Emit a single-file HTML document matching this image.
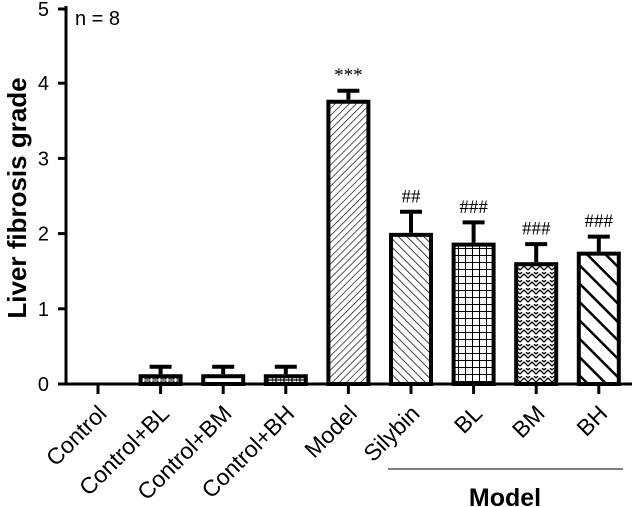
<!DOCTYPE html>
<html><head><meta charset="utf-8"><style>
body{margin:0;background:#fff}
svg{display:block;font-family:"Liberation Sans",Arial,sans-serif}
</style></head><body>
<svg id="chart" width="634" height="507" viewBox="0 0 634 507">
<defs>
<pattern id="p1" width="8" height="5" patternUnits="userSpaceOnUse"><rect x="1" y="1" width="5" height="3" fill="none" stroke="#000" stroke-width="1"/></pattern>
<pattern id="p3" width="7" height="7" patternUnits="userSpaceOnUse"><path d="M3.5 0V7M0 3.5H7" stroke="#000" stroke-width="1"/></pattern>
<pattern id="p4" width="5" height="5" patternUnits="userSpaceOnUse" patternTransform="rotate(45)"><line x1="0" y1="0" x2="0" y2="5" stroke="#000" stroke-width="1.3"/></pattern>
<pattern id="p5" width="6" height="6" patternUnits="userSpaceOnUse" patternTransform="rotate(-45)"><line x1="0" y1="0" x2="0" y2="6" stroke="#000" stroke-width="1.5"/></pattern>
<pattern id="p6" width="8" height="8" patternUnits="userSpaceOnUse"><path d="M0 0V8M4 0V8M0 0H8M0 4H8" stroke="#000" stroke-width="1.2"/></pattern>
<pattern id="p7" width="8" height="8" patternUnits="userSpaceOnUse"><path d="M0 6L4 2L8 6M0 2L2 0M6 0L8 2" fill="none" stroke="#000" stroke-width="1.3"/></pattern>
<pattern id="p8" width="13" height="13" patternUnits="userSpaceOnUse" patternTransform="rotate(-45)"><line x1="0" y1="0" x2="0" y2="13" stroke="#000" stroke-width="5"/></pattern>
</defs>
<g id="plot"></g>
</svg>
<script>
const categories=["Control","Control+BL","Control+BM","Control+BH","Model","Silybin","BL","BM","BH"];
const means=[0,0.13,0.13,0.13,3.78,2.01,1.88,1.62,1.76];
const errors=[0,0.12,0.12,0.12,0.14,0.30,0.29,0.26,0.22];
const marks=["","","","","***","##","###","###","###"];
const fills=["none","url(#p1)","none","url(#p6)","url(#p4)","url(#p5)","url(#p3)","url(#p7)","url(#p8)"];
const yTicks=[0,1,2,3,4,5];
const NS="http://www.w3.org/2000/svg";
const g=document.getElementById('plot');
const x0=66,xEnd=632,y0=384,unit=75.2;
const y=v=>y0-v*unit;
const xc=i=>98+62.6*i;
function el(t,a,txt){const e=document.createElementNS(NS,t);for(const k in a)e.setAttribute(k,a[k]);if(txt!==undefined)e.textContent=txt;g.appendChild(e);return e;}
categories.forEach((c,i)=>{
  if(means[i]<=0)return;
  const top=y(means[i]),w=44,cx=xc(i);
  const b=el('rect',{x:cx-w/2+2,y:top+2,width:w-4,height:y0-top-2,fill:fills[i]==="none"?"#fff":fills[i],stroke:"#000","stroke-width":4});
  
  
  const et=y(means[i]+errors[i]);
  const e1=el('line',{x1:cx,x2:cx,y1:top,y2:et,stroke:"#000","stroke-width":4});
  
  
  const e2=el('line',{x1:cx-11,x2:cx+11,y1:et+1.5,y2:et+1.5,stroke:"#000","stroke-width":4});
  
  
  if(marks[i]){const m=el('text',{x:cx,y:et-8,"text-anchor":"middle","font-size":19,"font-family":"Liberation Serif,serif"},marks[i]);
  
  }
});
const ya=el('line',{x1:x0,x2:x0,y1:6,y2:y0+1.5,stroke:"#000","stroke-width":3});


const xa=el('line',{x1:58,x2:xEnd,y1:y0,y2:y0,stroke:"#000","stroke-width":3});


yTicks.forEach(v=>{
  const yy=y(v)+(v===5?1:0);
  const t=el('line',{x1:58,x2:x0,y1:yy,y2:yy,stroke:"#000","stroke-width":3});
  
  
  const l=el('text',{x:49,y:yy+7,"text-anchor":"end","font-size":20},String(v));
  
  
});
categories.forEach((c,i)=>{
  const t=el('line',{x1:xc(i),x2:xc(i),y1:y0,y2:y0+10,stroke:"#000","stroke-width":3});
  
  
  const ax=xc(i)+10,ay=y0+31;
  const l=el('text',{x:ax,y:ay,"text-anchor":"end","font-size":23,transform:`rotate(-45 ${ax} ${ay})`},c);
  
  
});
const yt=el('text',{x:26,y:198,"text-anchor":"middle","font-size":26,"font-weight":"bold",transform:"rotate(-90 26 198)"},"Liver fibrosis grade");


const n=el('text',{x:75,y:25,"font-size":20},"n = 8");


const gl=el('line',{x1:388,x2:623,y1:469,y2:469,stroke:"#333","stroke-width":1.2});


const gt=el('text',{x:505,y:506,"text-anchor":"middle","font-size":25,"font-weight":"bold"},"Model");


</script>
</body></html>
